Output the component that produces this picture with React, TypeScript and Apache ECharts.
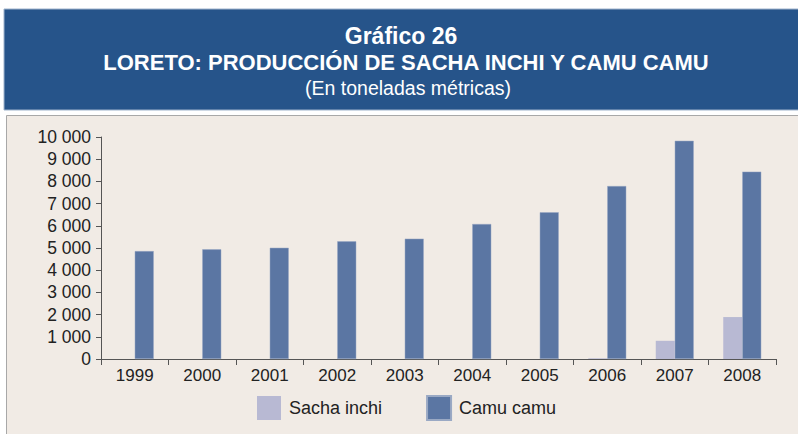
import React, { useEffect, useRef } from "react";
import * as echarts from "echarts";

const years = ["1999", "2000", "2001", "2002", "2003", "2004", "2005", "2006", "2007", "2008"];
const sachaInchi = [0, 0, 0, 0, 0, 0, 0, 30, 820, 1890];
const camuCamu = [4860, 4940, 5010, 5300, 5420, 6080, 6610, 7790, 9830, 8440];
const titleText = "Gráfico 26";
const subtitleText = "LORETO: PRODUCCIÓN DE SACHA INCHI Y CAMU CAMU";
const noteText = "(En toneladas métricas)";

const FONT = "'Liberation Sans', Arial, sans-serif";

function fmt(v: number) {
  return String(v).replace(/\B(?=(\d{3})+(?!\d))/g, " ");
}

export default function App() {
  const ref = useRef<HTMLDivElement>(null);
  useEffect(() => {
    document.body.style.margin = "0";
    const chart = echarts.init(ref.current!, undefined, { renderer: "svg" });
    chart.setOption({
      animation: false,
      backgroundColor: "#ffffff",
      textStyle: { fontFamily: FONT },
      graphic: [
        {
          type: "rect",
          shape: { x: 4, y: 9, width: 796, height: 101 },
          style: { fill: "#26548a", stroke: "#9fb3cc", lineWidth: 1 },
          z: -10,
        },
        {
          type: "rect",
          shape: { x: 6.5, y: 115.5, width: 795, height: 322 },
          style: { fill: "#f1ebe5", stroke: "#a8a8a8", lineWidth: 1 },
          z: -10,
        },
        {
          type: "text",
          x: 401,
          y: 36,
          style: {
            text: titleText,
            fill: "#ffffff",
            font: "bold 23px " + FONT,
            align: "center",
            verticalAlign: "middle",
          },
        },
        {
          type: "text",
          x: 406,
          y: 62,
          style: {
            text: subtitleText,
            fill: "#ffffff",
            font: "bold 22px " + FONT,
            align: "center",
            verticalAlign: "middle",
          },
        },
        {
          type: "text",
          x: 408,
          y: 88,
          style: {
            text: noteText,
            fill: "#ffffff",
            font: "19.5px " + FONT,
            align: "center",
            verticalAlign: "middle",
          },
        },
      ],
      legend: {
        left: 257,
        top: 395,
        padding: 0,
        itemWidth: 24,
        itemHeight: 24,
        itemGap: 44,
        icon: "rect",
        textStyle: { fontSize: 18, color: "#222222", fontFamily: FONT, padding: [0, 0, 0, 3] },
        data: ["Sacha inchi", "Camu camu"],
      },
      grid: { left: 101, right: 22, top: 137, bottom: 75, containLabel: false },
      xAxis: {
        type: "category",
        data: years,
        boundaryGap: true,
        axisLine: { lineStyle: { color: "#555555", width: 1 } },
        axisTick: { show: true, interval: 0, length: 6, lineStyle: { color: "#555555" } },
        axisLabel: { fontSize: 17, color: "#222222", fontFamily: FONT, margin: 8, interval: 0 },
      },
      yAxis: {
        type: "value",
        min: 0,
        max: 10000,
        interval: 1000,
        axisLine: { show: true, lineStyle: { color: "#555555", width: 1 } },
        axisTick: { show: true, length: 5, lineStyle: { color: "#555555" } },
        splitLine: { show: false },
        axisLabel: {
          fontSize: 17.5,
          color: "#222222",
          fontFamily: FONT,
          margin: 10,
          formatter: (v: number) => fmt(v),
        },
      },
      series: [
        {
          name: "Sacha inchi",
          type: "bar",
          data: sachaInchi,
          barWidth: 19,
          barGap: "0%",
          itemStyle: { color: "#b8b9d3", borderWidth: 0 },
        },
        {
          name: "Camu camu",
          type: "bar",
          data: camuCamu,
          barWidth: 19,
          barGap: "0%",
          itemStyle: { color: "#5b76a3", borderColor: "#9aa9c4", borderWidth: 0.5 },
        },
      ],
    });
    return () => chart.dispose();
  }, []);
  return <div ref={ref} style={{ width: 798, height: 434 }} />;
}
